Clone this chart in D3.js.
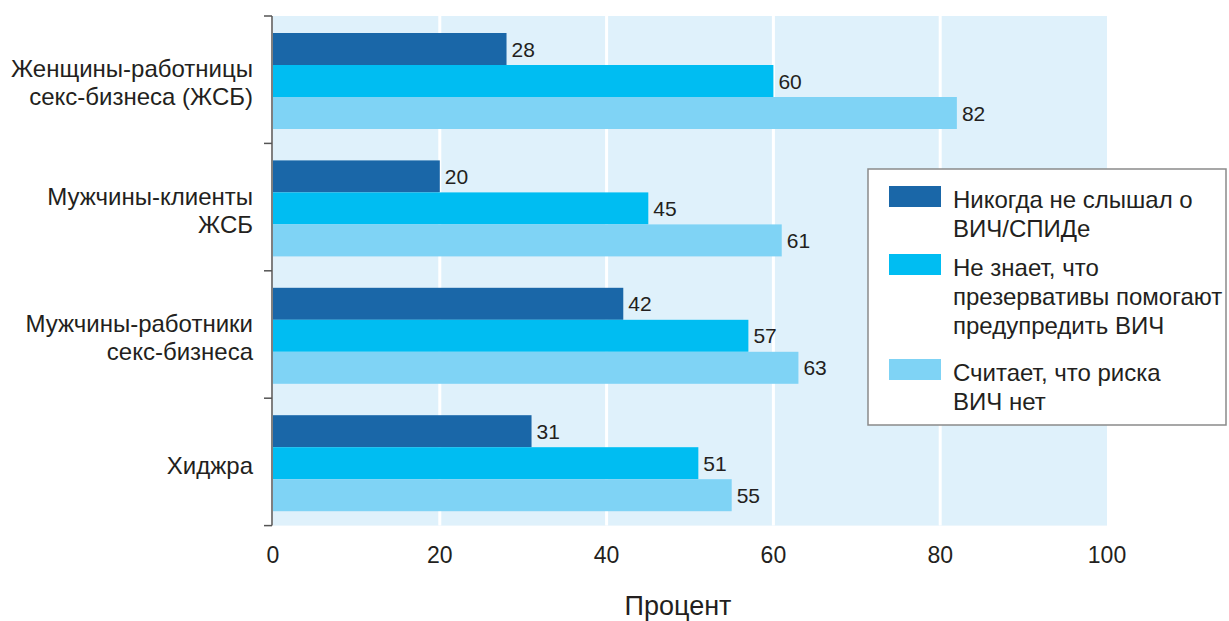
<!DOCTYPE html>
<html>
<head>
<meta charset="utf-8">
<script src="https://cdn.jsdelivr.net/npm/d3@7"></script>
<style>
  html, body { margin: 0; padding: 0; background: #fff; }
  svg { display: block; font-family: "Liberation Sans", Arial, sans-serif; }
</style>
</head>
<body>
<svg id="chart" width="1229" height="621"></svg>
<script>
// Group labels (each is split into lines)
const categories = [
  ["Женщины-работницы", "секс-бизнеса (ЖСБ)"],
  ["Мужчины-клиенты", "ЖСБ"],
  ["Мужчины-работники", "секс-бизнеса"],
  ["Хиджра"]
];
const seriesNames = [
  ["Никогда не слышал о", "ВИЧ/СПИДе"],
  ["Не знает, что", "презервативы помогают", "предупредить ВИЧ"],
  ["Считает, что риска", "ВИЧ нет"]
];
const neverHeard = [28, 20, 42, 31];
const condomsUnknown = [60, 45, 57, 51];
const noRisk = [82, 61, 63, 55];
const xTicks = [0, 20, 40, 60, 80, 100];
const axisTitle = "Процент";

const colors = ["#1a67a8", "#00bdf2", "#7fd3f5"];
const seriesValues = [neverHeard, condomsUnknown, noRisk];
const textColor = "#231f20";

const svg = d3.select("#chart");
const plotLeft = 273, plotRight = 1107, plotTop = 16, plotBottom = 525.6;

const x = d3.scaleLinear().domain([0, 100]).range([plotLeft, plotRight]);
const y = d3.scaleBand().domain(d3.range(categories.length)).range([plotTop, plotBottom]).paddingInner(0).paddingOuter(0);
const sub = d3.scaleBand().domain(d3.range(3)).range([17, 17 + 96]);

// Plot background
svg.append("rect")
  .attr("x", x(0)).attr("y", plotTop)
  .attr("width", x(100) - x(0)).attr("height", plotBottom - plotTop)
  .attr("fill", "#dff1fb");

// Vertical gridlines
svg.append("g").selectAll("line")
  .data(xTicks.filter(d => d > 0 && d < 100))
  .join("line")
  .attr("x1", d => x(d)).attr("x2", d => x(d))
  .attr("y1", plotTop).attr("y2", plotBottom)
  .attr("stroke", "#ffffff").attr("stroke-width", 3);

// Bars
const groups = svg.append("g").selectAll("g")
  .data(categories.map((c, i) => i))
  .join("g")
  .attr("transform", i => `translate(0,${y(i)})`);

groups.each(function(i) {
  const g = d3.select(this);
  seriesValues.forEach((vals, s) => {
    g.append("rect")
      .attr("x", x(0))
      .attr("y", sub(s))
      .attr("width", x(vals[i]) - x(0))
      .attr("height", sub.bandwidth())
      .attr("fill", colors[s]);
    g.append("text")
      .attr("x", x(vals[i]) + 5)
      .attr("y", sub(s) + sub.bandwidth() / 2)
      .attr("dy", "0.36em")
      .attr("font-size", 21)
      .attr("fill", textColor)
      .text(vals[i]);
  });
});

// Left axis: line with ticks at band boundaries
const yAxis = svg.append("g");
yAxis.append("line")
  .attr("x1", 272).attr("x2", 272)
  .attr("y1", plotTop).attr("y2", plotBottom)
  .attr("stroke", "#555").attr("stroke-width", 1.5);
yAxis.selectAll("line.tick")
  .data(d3.range(categories.length + 1))
  .join("line")
  .attr("class", "tick")
  .attr("x1", 264).attr("x2", 272)
  .attr("y1", i => i < categories.length ? y(i) : plotBottom)
  .attr("y2", i => i < categories.length ? y(i) : plotBottom)
  .attr("stroke", "#555").attr("stroke-width", 1.5);

// Category labels
categories.forEach((lines, i) => {
  const cy = y(i) + y.bandwidth() / 2 + 3;
  const t = svg.append("text")
    .attr("text-anchor", "end")
    .attr("font-size", 24)
    .attr("fill", textColor);
  lines.forEach((ln, k) => {
    t.append("tspan")
      .attr("x", 253)
      .attr("y", cy + (k - (lines.length - 1) / 2) * 28)
      .attr("dy", "0.36em")
      .text(ln);
  });
});

// Bottom tick labels
svg.append("g").selectAll("text")
  .data(xTicks)
  .join("text")
  .attr("x", d => x(d))
  .attr("y", 555)
  .attr("dy", "0.36em")
  .attr("text-anchor", "middle")
  .attr("font-size", 23)
  .attr("fill", textColor)
  .text(d => d);

svg.append("text")
  .attr("x", 678).attr("y", 605)
  .attr("dy", "0.36em")
  .attr("text-anchor", "middle")
  .attr("font-size", 27)
  .attr("fill", textColor)
  .text(axisTitle);

// Legend
const legend = svg.append("g");
legend.append("rect")
  .attr("x", 868).attr("y", 169)
  .attr("width", 358).attr("height", 256)
  .attr("fill", "#ffffff")
  .attr("stroke", "#8a8a8a").attr("stroke-width", 1.5);

const legendTop = [186, 254, 359];
seriesNames.forEach((lines, s) => {
  legend.append("rect")
    .attr("x", 889).attr("y", legendTop[s])
    .attr("width", 52).attr("height", 21)
    .attr("fill", colors[s]);
  const t = legend.append("text")
    .attr("font-size", 24)
    .attr("fill", textColor);
  lines.forEach((ln, k) => {
    t.append("tspan")
      .attr("x", 953)
      .attr("y", legendTop[s] + 13 + k * 29)
      .attr("dy", "0.36em")
      .text(ln);
  });
});
</script>
</body>
</html>
